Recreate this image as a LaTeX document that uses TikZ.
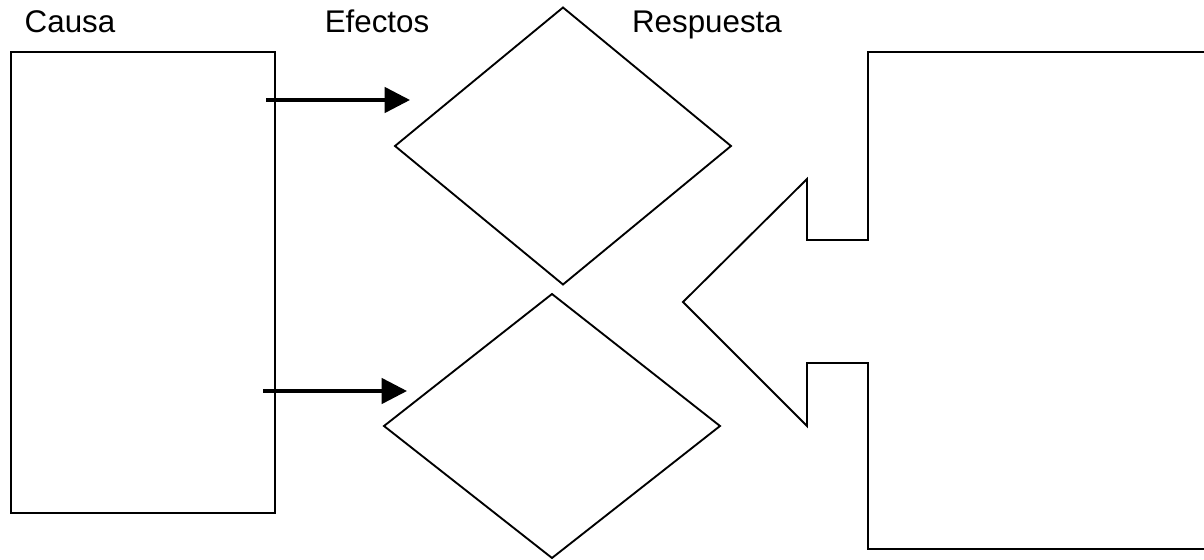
\documentclass[tikz,border=0pt]{standalone}
\usepackage{fontspec}
\setmainfont{Liberation Sans}
\usetikzlibrary{arrows.meta,shapes.geometric}
\begin{document}
\begin{tikzpicture}[x=0.75pt,y=-0.75pt,
  outline/.style={draw=black,line width=1.4pt,fill=white,inner sep=0pt,outer sep=0pt},
  flow/.style={line width=2.6pt,-{Triangle[length=19pt,width=19pt]}},
  heading/.style={anchor=base,font=\fontsize{23.5}{28}\selectfont,inner sep=0pt}]
\useasboundingbox (0,0) rectangle (1204,560);
% headings
\node[heading] (tcausa) at (70,33) {Causa};
\node[heading] (tefectos) at (377,33) {Efectos};
\node[heading] (tresp) at (707,33) {Respuesta};
% cause box
\node[outline,rectangle,minimum width=198pt,minimum height=345.75pt] (causa) at (143,282.5) {};
% diamonds
\node[outline,diamond,minimum width=252pt,minimum height=207.75pt] (ef1) at (563,146) {};
\node[outline,diamond,minimum width=252pt,minimum height=198pt] (ef2) at (552,426) {};
% response shape (arrow pointing left)
\draw[outline] (1212,52) -- (868,52) -- (868,240) -- (807,240) -- (807,179)
  -- (683,302) coordinate (tip) -- (807,426) -- (807,363) -- (868,363) -- (868,549) -- (1212,549) -- cycle;
% arrows
\coordinate (a1s) at (266,100);
\coordinate (a1e) at (410,100);
\coordinate (a2s) at (263,391);
\coordinate (a2e) at (407,391);
\draw[flow] (a1s) -- (a1e);
\draw[flow] (a2s) -- (a2e);
\end{tikzpicture}
\end{document}
